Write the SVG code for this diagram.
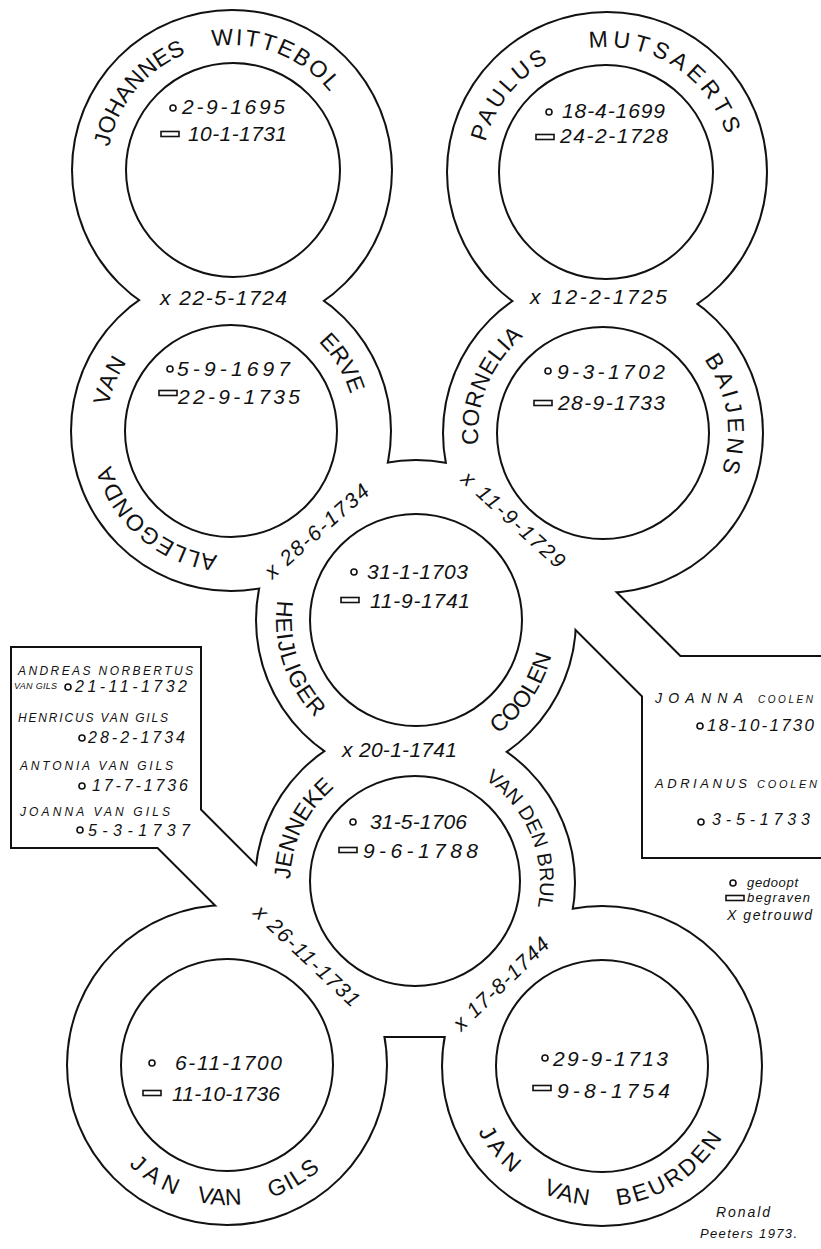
<svg xmlns="http://www.w3.org/2000/svg" xmlns:xlink="http://www.w3.org/1999/xlink" width="821" height="1249" viewBox="0 0 821 1249">
<style>
.nm{font-family:"Liberation Sans",Arial,sans-serif;font-size:23px;fill:#111;text-anchor:middle}
.dt{font-family:"Liberation Sans",Arial,sans-serif;font-style:italic;font-size:21px;fill:#111}
.mr{font-family:"Liberation Sans",Arial,sans-serif;font-style:italic;font-size:21px;fill:#111;text-anchor:middle}
.bx{font-family:"Liberation Sans",Arial,sans-serif;font-style:italic;font-size:12px;fill:#111}
.bd{font-family:"Liberation Sans",Arial,sans-serif;font-style:italic;font-size:16px;fill:#111}
.inner{fill:none;stroke:#111;stroke-width:2}
</style>
<defs>
<clipPath id="clipF"><rect x="0" y="0" width="821" height="1036"/></clipPath>
<g id="blob">
<circle cx="232" cy="170" r="159"/>
<circle cx="607" cy="172" r="159"/>
<circle cx="231" cy="431" r="159"/>
<circle cx="603" cy="433" r="159"/>
<circle cx="416" cy="620" r="159"/>
<circle cx="415" cy="883" r="159" clip-path="url(#clipF)"/>
<circle cx="227" cy="1065" r="159"/>
<circle cx="602" cy="1066" r="159"/>
<rect x="370" y="1000" width="90" height="36"/>
<polygon points="190,800 300,910 250,939 150,839"/>
<rect x="12" y="648" width="188" height="199"/>
<polygon points="560,537 700,677 660,713 520,573"/>
<rect x="643" y="657" width="200" height="200"/>
</g>
<circle id="bap" r="3" fill="none" stroke="#111" stroke-width="1.6"/>
<rect id="bur" x="-9" y="-2.5" width="18" height="5" fill="none" stroke="#111" stroke-width="1.6"/>
<path id="pA" d="M232,295 A125,125 0 0 1 107,170 A125,125 0 0 1 232,45 A125,125 0 0 1 357,170 A125,125 0 0 1 232,295"/>
<path id="pB" d="M607,297 A125,125 0 0 1 482,172 A125,125 0 0 1 607,47 A125,125 0 0 1 732,172 A125,125 0 0 1 607,297"/>
<path id="pC" d="M231,556 A125,125 0 0 1 106,431 A125,125 0 0 1 231,306 A125,125 0 0 1 356,431 A125,125 0 0 1 231,556"/>
<path id="pD" d="M603,558 A125,125 0 0 1 478,433 A125,125 0 0 1 603,308 A125,125 0 0 1 728,433 A125,125 0 0 1 603,558"/>
<path id="pF" d="M415,1008 A125,125 0 0 1 290,883 A125,125 0 0 1 415,758 A125,125 0 0 1 540,883 A125,125 0 0 1 415,1008"/>
<path id="pE" d="M416,480 A140,140 0 0 0 276,620 A140,140 0 0 0 416,760 A140,140 0 0 0 556,620 A140,140 0 0 0 416,480"/>
<path id="pG" d="M227,925 A140,140 0 0 0 87,1065 A140,140 0 0 0 227,1205 A140,140 0 0 0 367,1065 A140,140 0 0 0 227,925"/>
<path id="pH" d="M602,926 A140,140 0 0 0 462,1066 A140,140 0 0 0 602,1206 A140,140 0 0 0 742,1066 A140,140 0 0 0 602,926"/>
</defs>
<rect width="821" height="1249" fill="#fff"/>
<g id="outline">
<use href="#blob" fill="#fff" stroke="#111" stroke-width="4"/>
<use href="#blob" fill="#fff" stroke="none"/>
</g>

<g id="johannes-wittebol">
<circle class="inner" cx="233" cy="170" r="107"/>
<text class="nm"><textPath href="#pA" startOffset="282.5" letter-spacing="0.1">JOHANNES</textPath></text>
<text class="nm"><textPath href="#pA" startOffset="439.6" letter-spacing="2.1">WITTEBOL</textPath></text>
<use href="#bap" x="173" y="108"/><text class="dt" x="182" y="114" textLength="103" lengthAdjust="spacing">2-9-1695</text>
<use href="#bur" x="170" y="134"/><text class="dt" x="188" y="141" textLength="99" lengthAdjust="spacing">10-1-1731</text>
</g>

<g id="paulus-mutsaerts">
<circle class="inner" cx="606" cy="172" r="107"/>
<text class="nm"><textPath href="#pB" startOffset="280.3" letter-spacing="2.9">PAULUS</textPath></text>
<text class="nm"><textPath href="#pB" startOffset="464.7" letter-spacing="4.3">MUTSAERTS</textPath></text>
<use href="#bap" x="549" y="112"/><text class="dt" x="562" y="118" textLength="103" lengthAdjust="spacing">18-4-1699</text>
<use href="#bur" x="545" y="137"/><text class="dt" x="560" y="143" textLength="108" lengthAdjust="spacing">24-2-1728</text>
</g>

<g id="allegonda-van-erve">
<circle class="inner" cx="231" cy="431" r="106"/>
<text class="nm"><textPath href="#pC" startOffset="87.9" letter-spacing="0.9">ALLEGONDA</textPath></text>
<text class="nm"><textPath href="#pC" startOffset="246.1" letter-spacing="1.2">VAN</textPath></text>
<text class="nm"><textPath href="#pC" startOffset="520.3" letter-spacing="0">ERVE</textPath></text>
<use href="#bap" x="170" y="369"/><text class="dt" x="177" y="376" textLength="113" lengthAdjust="spacing">5-9-1697</text>
<use href="#bur" x="168" y="393"/><text class="dt" x="178" y="404" textLength="122" lengthAdjust="spacing">22-9-1735</text>
</g>

<g id="cornelia-baijens">
<circle class="inner" cx="603" cy="433" r="106"/>
<text class="nm"><textPath href="#pD" startOffset="245.7" letter-spacing="0.6">CORNELIA</textPath></text>
<text class="nm"><textPath href="#pD" startOffset="571" letter-spacing="3.7">BAIJENS</textPath></text>
<use href="#bap" x="548" y="371"/><text class="dt" x="557" y="379" textLength="108" lengthAdjust="spacing">9-3-1702</text>
<use href="#bur" x="543" y="403"/><text class="dt" x="558" y="410" textLength="107" lengthAdjust="spacing">28-9-1733</text>
</g>

<g id="heijliger-coolen">
<circle class="inner" cx="416" cy="620" r="106"/>
<text class="nm"><textPath href="#pE" startOffset="264.4" letter-spacing="1.1">HEIJLIGER</textPath></text>
<text class="nm"><textPath href="#pE" startOffset="575.2" letter-spacing="0">COOLEN</textPath></text>
<use href="#bap" x="354" y="572"/><text class="dt" x="367" y="579" textLength="101" lengthAdjust="spacing">31-1-1703</text>
<use href="#bur" x="350" y="600"/><text class="dt" x="370" y="608" textLength="100" lengthAdjust="spacing">11-9-1741</text>
</g>

<g id="jenneke-van-den-brul">
<circle class="inner" cx="415" cy="881" r="105"/>
<text class="nm"><textPath href="#pF" startOffset="252.4" letter-spacing="-0.2">JENNEKE</textPath></text>
<text class="nm" style="font-size:20px"><textPath href="#pF" startOffset="540">VAN DEN BRUL</textPath></text>
<use href="#bap" x="353" y="822"/><text class="dt" x="370" y="829" textLength="97" lengthAdjust="spacing">31-5-1706</text>
<use href="#bur" x="348" y="850"/><text class="dt" x="363" y="858" textLength="115" lengthAdjust="spacing">9-6-1788</text>
</g>

<g id="jan-van-gils">
<circle class="inner" cx="227" cy="1065" r="106"/>
<text class="nm"><textPath href="#pG" startOffset="361.6" letter-spacing="5.8">JAN</textPath></text>
<text class="nm"><textPath href="#pG" startOffset="431.8">VAN</textPath></text>
<text class="nm"><textPath href="#pG" startOffset="513.9" letter-spacing="1.5">GILS</textPath></text>
<use href="#bap" x="152" y="1063"/><text class="dt" x="175" y="1070" textLength="107" lengthAdjust="spacing">6-11-1700</text>
<use href="#bur" x="152" y="1093"/><text class="dt" x="172" y="1101" textLength="108" lengthAdjust="spacing">11-10-1736</text>
</g>

<g id="jan-van-beurden">
<circle class="inner" cx="602" cy="1066" r="106"/>
<text class="nm"><textPath href="#pH" startOffset="317.7" letter-spacing="5.3">JAN</textPath></text>
<text class="nm"><textPath href="#pH" startOffset="402.7" letter-spacing="1">VAN</textPath></text>
<text class="nm"><textPath href="#pH" startOffset="521.2" letter-spacing="2.8">BEURDEN</textPath></text>
<use href="#bap" x="545" y="1058"/><text class="dt" x="553" y="1066" textLength="115" lengthAdjust="spacing">29-9-1713</text>
<use href="#bur" x="542" y="1088"/><text class="dt" x="557" y="1098" textLength="113" lengthAdjust="spacing">9-8-1754</text>
</g>

<g id="connectors">
<text class="dt" x="160" y="305" textLength="127" lengthAdjust="spacing">x 22-5-1724</text>
<text class="dt" x="530" y="304" textLength="137" lengthAdjust="spacing">x 12-2-1725</text>
<text class="dt" x="342" y="757" textLength="115" lengthAdjust="spacing">x 20-1-1741</text>
<text class="mr" transform="translate(321.5,536.5) rotate(-41.3)" textLength="131" lengthAdjust="spacing">x 28-6-1734</text>
<text class="mr" transform="translate(508.5,525) rotate(42.3)" textLength="132" lengthAdjust="spacing">x 11-9-1729</text>
<text class="mr" transform="translate(302,961) rotate(43.4)" textLength="137" lengthAdjust="spacing">x 26-11-1731</text>
<text class="mr" transform="translate(506,989) rotate(-43.9)" textLength="124" lengthAdjust="spacing">x 17-8-1744</text>
</g>

<g id="children-van-gils">
<text class="bx" x="18" y="675" textLength="175" lengthAdjust="spacing">ANDREAS NORBERTUS</text>
<text class="bx" style="font-size:9px" x="14" y="689" textLength="43" lengthAdjust="spacing">VAN GILS</text>
<use href="#bap" x="68" y="687"/><text class="bd" x="75" y="692" textLength="112" lengthAdjust="spacing">21-11-1732</text>
<text class="bx" x="18" y="722" textLength="150" lengthAdjust="spacing">HENRICUS VAN GILS</text>
<use href="#bap" x="82" y="738"/><text class="bd" x="88" y="743" textLength="97" lengthAdjust="spacing">28-2-1734</text>
<text class="bx" x="20" y="770" textLength="153" lengthAdjust="spacing">ANTONIA VAN GILS</text>
<use href="#bap" x="82" y="786"/><text class="bd" x="92" y="791" textLength="96" lengthAdjust="spacing">17-7-1736</text>
<text class="bx" x="20" y="816" textLength="150" lengthAdjust="spacing">JOANNA VAN GILS</text>
<use href="#bap" x="80" y="830"/><text class="bd" x="88" y="836" textLength="102" lengthAdjust="spacing">5-3-1737</text>
</g>

<g id="children-coolen">
<text class="bx" style="font-size:14px" x="655" y="703" textLength="88" lengthAdjust="spacing">JOANNA</text>
<text class="bx" style="font-size:10px" x="758" y="703" textLength="55" lengthAdjust="spacing">COOLEN</text>
<use href="#bap" x="700" y="726"/><text class="bd" style="font-size:17px" x="707" y="731" textLength="107" lengthAdjust="spacing">18-10-1730</text>
<text class="bx" style="font-size:13px" x="655" y="788" textLength="92" lengthAdjust="spacing">ADRIANUS</text>
<text class="bx" style="font-size:11px" x="757" y="788" textLength="60" lengthAdjust="spacing">COOLEN</text>
<use href="#bap" x="701" y="822"/><text class="bd" x="712" y="825" textLength="98" lengthAdjust="spacing">3-5-1733</text>
</g>

<g id="legend">
<use href="#bap" x="733" y="883"/><text class="bx" style="font-size:13px" x="747" y="887" textLength="51" lengthAdjust="spacing">gedoopt</text>
<use href="#bur" x="735" y="898"/><text class="bx" style="font-size:13px" x="747" y="902" textLength="63" lengthAdjust="spacing">begraven</text>
<text class="bx" style="font-size:14px" x="727" y="920" textLength="85" lengthAdjust="spacing">X getrouwd</text>
</g>

<g id="signature">
<text class="bx" style="font-size:14px" x="716" y="1217" textLength="54" lengthAdjust="spacing">Ronald</text>
<text class="bx" style="font-size:13px" x="700" y="1238" textLength="97" lengthAdjust="spacing">Peeters 1973.</text>
</g>
</svg>
